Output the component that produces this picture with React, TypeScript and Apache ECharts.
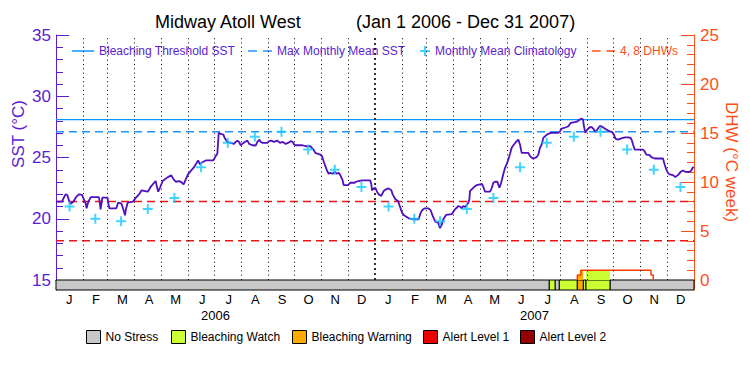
import React, { useEffect, useRef } from "react";
import * as echarts from "echarts";

const FONT = "Liberation Sans";
const PURPLE = "#5a1ed2";
const LINE_PURPLE = "#5010c0";
const ORANGE = "#ff4f19";
const BLUE = "#0a96ff";
const BLUE_DASH = "#1e96ff";
const RED = "#f01414";
const CYAN = "#14c8ff";

const monthLetters = ["J", "F", "M", "A", "M", "J", "J", "A", "S", "O", "N", "D"];
const monthLengths = [31, 28, 31, 30, 31, 30, 31, 31, 30, 31, 30, 31];
const yearLabels = ["2006", "2007"];

// days since 2006-01-01
const sstDays = [
  0, 3, 7, 8, 11, 13, 15, 17, 20, 23, 26, 30, 31, 34, 35, 37, 40, 49, 50, 51, 53, 59, 59.5, 61, 69, 71, 75, 77, 79, 80,
  82, 88, 92, 95, 98, 102, 105, 109, 114, 115, 117, 119, 122, 128, 132, 134, 137, 141, 144, 146, 148.5, 151, 154, 158,
  161, 162.5, 165, 166.3, 168.6, 171.3, 180, 182.7, 184.6, 186.2, 188.5, 191.5, 193, 196, 200, 203.7, 205.6, 207.5,
  209.4, 211.3, 213.2, 216, 219, 221, 224.7, 228.5, 230.4, 232.7, 234.2, 236.5, 241.8, 243.8, 246.4, 249.5, 253.3,
  256.3, 259.4, 262.8, 265.5, 268.5, 270.8, 272.4, 274.3, 281.9, 285.7, 291, 293.5, 295, 296.7, 299.8, 302.4, 304.3,
  306.2, 308.2, 310.1, 312, 313.9, 316.5, 318.8, 321.5, 323.4, 325.3, 328, 329.1, 334.1, 336.8, 341.7, 343.2, 346.3,
  350.1, 359.6, 360.8, 361.5, 363.5, 365.4, 367.3, 369.2, 372.2, 374.9, 377.6, 380.6, 383.7, 385.2, 388.3, 391.3, 394,
  395.9, 397.8, 403.5, 408.1, 415, 416.9, 418.8, 421.8, 426.4, 428.7, 431, 434, 437.1, 439.4, 441.3, 443.2, 446.3,
  452.7, 456.6, 460.4, 463, 464.2, 466.1, 468, 469.9, 471.8, 473, 473.7, 475.6, 478.3, 481.4, 485.2, 487.1, 489,
  490.9, 496.6, 498.5, 500.4, 502.3, 505, 507.3, 508.8, 510.3, 511.9, 513.8, 515.7, 517.6, 519.5, 521.4, 523.3,
  526.4, 529, 530.9, 532.8, 534.7, 540.5, 542.4, 545.4, 548.1, 550, 551.9, 553.8, 555.7, 557.6, 560.7, 563.4, 566,
  574.8, 576.7, 578.6, 583.6, 586.2, 588.9, 595.3, 599.1, 601.8, 603, 604.1, 605.6, 607.9, 610.6, 613.3, 615.5, 617.1,
  619.4, 622, 623.9, 627, 629.7, 633.5, 636.1, 638.4, 640, 643, 646.1, 648.7, 651.4, 654.5, 657.5, 659, 660.2, 662.1,
  671.6, 673.5, 675.4, 679.2, 681.1, 685, 694.5, 696.4, 698.3, 700.2, 702.1, 706, 708.6, 711.7, 714.7, 717.4, 720.1,
  725, 726.9, 728.8, 730,
];
const sstValues = [
  21.4, 21.4, 21.4, 21.59, 21.99, 21.94, 21.45, 21.23, 21.4, 21.77, 21.99, 21.94, 21.72, 21.23, 20.85, 21.4, 21.77,
  21.77, 21.4, 20.77, 21.72, 21.72, 21.4, 20.85, 20.85, 21.31, 21.23, 20.77, 20.28, 20.77, 21.31, 21.4, 21.77, 21.99,
  22.32, 22.26, 22.21, 22.67, 23.08, 22.75, 22.21, 22.53, 23.08, 23.4, 23.54, 23.27, 23.02, 23.08, 22.95, 22.8, 23.21,
  23.62, 23.89, 24.21, 24.57, 24.76, 24.43, 24.57, 24.65, 24.76, 24.76, 25.11, 25.3, 27.01, 26.93, 26.87, 26.6, 26.27,
  26.19, 26.11, 26.27, 26.38, 26.27, 26.0, 26.11, 26.27, 26.38, 26.11, 26.0, 25.98, 26.27, 26.46, 26.27, 26.19, 26.19,
  26.33, 26.38, 26.27, 26.38, 26.19, 26.27, 26.11, 26.19, 26.33, 26.27, 26.06, 26.0, 26.0, 25.92, 25.92, 25.73, 25.6,
  25.38, 25.3, 25.24, 25.11, 24.7, 24.29, 23.94, 23.67, 23.75, 23.67, 23.83, 23.67, 23.75, 23.56, 23.13, 22.75, 22.75,
  22.94, 22.94, 23.02, 23.08, 23.13, 23.13, 22.8, 22.32, 22.48, 22.53, 22.21, 21.99, 21.86, 22.26, 22.4, 22.48, 22.32,
  21.99, 21.59, 21.45, 20.91, 20.5, 20.31, 20.04, 19.96, 19.96, 20.42, 20.69, 20.85, 20.85, 20.69, 20.23, 19.77, 19.69,
  19.23, 19.5, 19.96, 20.31, 20.37, 20.77, 21.04, 20.96, 20.85, 21.04, 20.96, 21.12, 21.31, 21.59, 22.26, 22.4, 22.59,
  22.75, 22.8, 22.86, 22.59, 22.21, 22.21, 22.48, 22.94, 23.02, 23.02, 22.53, 22.8, 23.21, 23.67, 24.16, 24.49, 24.84,
  25.3, 25.79, 26.0, 26.27, 26.46, 26.06, 25.38, 25.38, 25.38, 25.11, 24.92, 24.97, 25.03, 25.24, 25.79, 26.06, 26.6,
  26.81, 26.93, 27.01, 27.01, 27.14, 27.36, 27.47, 27.55, 27.82, 27.9, 28.09, 28.17, 28.11, 27.55, 27.01, 27.28, 27.47,
  27.47, 27.28, 27.09, 27.28, 27.55, 27.55, 27.41, 27.28, 27.14, 27.09, 26.87, 26.54, 26.46, 26.54, 26.6, 26.65, 26.65,
  26.6, 26.38, 26.06, 25.65, 25.65, 25.51, 25.24, 25.19, 25.03, 24.92, 24.92, 24.43, 24.02, 23.75, 23.62, 23.56, 23.4,
  23.56, 23.83, 23.94, 23.83, 23.83, 23.94, 24.21, 24.16,
];

const climatology = [21.0, 20.0, 19.8, 20.8, 21.7, 24.2, 26.2, 26.7, 27.1, 25.65, 24.0, 22.6];
const bleachingThreshold = 28.1;
const maxMonthlyMean = 27.1;
const dhwLevels = [4, 8];

// Degree heating weeks (step line)
const dhwDays = [596.5, 596.5, 600.5, 680.8, 683.4];
const dhwValues = [0, 0.5, 1.0, 0.5, 0];
const dhwWarnDays = [596.5, 600.5, 603.3];
const dhwWarnValues = [0.5, 1.0, 1.0];
const dhwWatchDays = [606.4, 633.9];
const dhwWatchValues = [1.0, 1.0];

// Stress bar segments
const stressStart = [0, 564.4, 571, 575.9, 596.5, 603.3, 606.4, 633.9];
const stressEnd = [564.4, 571, 575.9, 596.5, 603.3, 606.4, 633.9, 730];
const stressLevel = [0, 1, 0, 1, 2, 1, 1, 0];
const stressNames = ["No Stress", "Bleaching Watch", "Bleaching Warning", "Alert Level 1", "Alert Level 2"];
const stressColors = ["#c8c8c8", "#ccff33", "#ffaa00", "#ee0000", "#960000"];
const stressLegendLeft = [86, 171, 292, 423, 520];

const PLUS = "path://M4,0h2v10h-2z M0,4h10v2h-10z";
const LINE_ICON = "path://M0,0h22v2h-22z";
const DASH_ICON = "path://M0,0h9v2h-9z M15,0h9v2h-9z";

export default function App() {
  const ref = useRef<HTMLDivElement>(null);

  useEffect(() => {
    if (!ref.current) return;
    const chart = echarts.init(ref.current, undefined, { renderer: "svg" });

    const allLengths = [...monthLengths, ...monthLengths];
    const monthStarts: number[] = [0];
    allLengths.forEach((l) => monthStarts.push(monthStarts[monthStarts.length - 1] + l));
    const totalDays = monthStarts[24];

    const climData = allLengths.map((l, i) => [monthStarts[i] + l / 2, climatology[i % 12]]);

    const gridLines = monthStarts.slice(1, 24).map((d) => ({
      xAxis: d,
      lineStyle: d === 365 ? { type: [2, 3], width: 1.6, color: "#000" } : { type: [1, 3.3], width: 1, color: "#000" },
    }));

    const stressSeries = stressNames.map((name, k) => ({
      type: "custom",
      name,
      xAxisIndex: 1,
      yAxisIndex: 2,
      itemStyle: { color: stressColors[k] },
      data: stressStart.map((s, i) => [s, stressEnd[i], stressLevel[i]]).filter((r) => r[2] === k),
      encode: { x: [0, 1] },
      renderItem: (params: any, api: any) => {
        const a = api.coord([api.value(0), 1]);
        const b = api.coord([api.value(1), 0]);
        return {
          type: "rect",
          shape: { x: a[0], y: a[1], width: b[0] - a[0], height: b[1] - a[1] },
          style: { fill: stressColors[k], stroke: "#000", lineWidth: 1 },
        };
      },
      z: 2,
    }));

    const topLegend = (name: string, left: number, icon: string, w: number, h: number, color: string, textColor: string) => ({
      data: [{ name, icon, itemStyle: { color, borderWidth: 0 } }],
      left,
      top: 45,
      padding: 0,
      itemWidth: w,
      itemHeight: h,
      symbolKeepAspect: false,
      selectedMode: false,
      textStyle: { color: textColor, fontSize: 12, fontFamily: FONT },
    });

    const option: any = {
      animation: false,
      backgroundColor: "#fff",
      textStyle: { fontFamily: FONT },
      title: [
        {
          text: "Midway Atoll West",
          left: 155,
          top: 13,
          padding: 0,
          textStyle: { fontSize: 18, fontWeight: "normal", color: "#000", fontFamily: FONT },
        },
        {
          text: "(Jan 1 2006 - Dec 31 2007)",
          left: 356,
          top: 13,
          padding: 0,
          textStyle: { fontSize: 18, fontWeight: "normal", color: "#000", fontFamily: FONT },
        },
      ],
      grid: [
        { left: 56, right: 56, top: 35, height: 245, outerBoundsMode: "none" },
        { left: 56, right: 56, top: 280, height: 10, outerBoundsMode: "none" },
      ],
      xAxis: [
        {
          type: "value",
          gridIndex: 0,
          min: 0,
          max: totalDays,
          position: "top",
          axisLine: { show: true, lineStyle: { color: "#000", width: 1 } },
          axisTick: { show: false },
          axisLabel: { show: false },
          splitLine: { show: false },
        },
        {
          type: "value",
          gridIndex: 1,
          min: 0,
          max: totalDays,
          position: "top",
          show: false,
        },
        {
          type: "category",
          gridIndex: 1,
          position: "bottom",
          data: [...monthLetters, ...monthLetters],
          boundaryGap: true,
          axisLine: { show: false },
          axisTick: { show: false },
          axisLabel: { interval: 0, fontSize: 13, color: "#000", margin: 3, fontFamily: FONT },
        },
        {
          type: "category",
          gridIndex: 1,
          position: "bottom",
          offset: 16,
          data: yearLabels,
          boundaryGap: true,
          axisLine: { show: false },
          axisTick: { show: false },
          axisLabel: { interval: 0, fontSize: 13, color: "#000", margin: 3, fontFamily: FONT },
        },
      ],
      yAxis: [
        {
          type: "value",
          gridIndex: 0,
          position: "left",
          min: 15,
          max: 35,
          interval: 5,
          axisLine: { show: true, lineStyle: { color: PURPLE, width: 1 } },
          axisTick: { show: true, inside: true, length: 13, lineStyle: { color: PURPLE } },
          minorTick: { show: true, splitNumber: 5, length: 7, lineStyle: { color: PURPLE } },
          axisLabel: { color: PURPLE, fontSize: 17, margin: 5, fontFamily: FONT },
          splitLine: { show: false },
        },
        {
          type: "value",
          gridIndex: 0,
          position: "right",
          min: 0,
          max: 25,
          interval: 5,
          axisLine: { show: true, lineStyle: { color: ORANGE, width: 1 } },
          axisTick: { show: true, inside: true, length: 13, lineStyle: { color: ORANGE } },
          minorTick: { show: true, splitNumber: 5, length: 7, lineStyle: { color: ORANGE } },
          axisLabel: { color: ORANGE, fontSize: 17, margin: 6, fontFamily: FONT },
          splitLine: { show: false },
        },
        {
          type: "value",
          gridIndex: 1,
          position: "left",
          min: 0,
          max: 1,
          axisLine: { show: true, lineStyle: { color: PURPLE } },
          axisTick: { show: false },
          axisLabel: { show: false },
          splitLine: { show: false },
        },
        {
          type: "value",
          gridIndex: 1,
          position: "right",
          min: 0,
          max: 1,
          axisLine: { show: true, lineStyle: { color: ORANGE } },
          axisTick: { show: false },
          axisLabel: { show: false },
          splitLine: { show: false },
        },
      ],
      legend: [
        topLegend("Bleaching Threshold SST", 72, LINE_ICON, 22, 1.5, BLUE, PURPLE),
        topLegend("Max Monthly Mean SST", 248, DASH_ICON, 24, 1.5, BLUE_DASH, PURPLE),
        topLegend("Monthly Mean Climatology", 420, PLUS, 10, 10, CYAN, PURPLE),
        topLegend("4, 8 DHWs", 592, DASH_ICON, 23, 1.5, ORANGE, ORANGE),
        ...stressNames.map((name, k) => ({
          data: [{ name, icon: "rect" }],
          left: stressLegendLeft[k],
          top: 330,
          padding: 0,
          itemWidth: 14,
          itemHeight: 13,
          selectedMode: false,
          itemStyle: { borderColor: "#000", borderWidth: 1 },
          textStyle: { color: "#000", fontSize: 12, fontFamily: FONT },
        })),
      ],
      graphic: [
        {
          type: "text",
          x: 18,
          y: 134,
          rotation: Math.PI / 2,
          style: {
            text: "SST (°C)",
            fill: PURPLE,
            font: `17px "${FONT}"`,
            align: "center",
            verticalAlign: "middle",
          },
        },
        {
          type: "text",
          x: 731,
          y: 162,
          rotation: -Math.PI / 2,
          style: {
            text: "DHW (°C week)",
            fill: ORANGE,
            font: `17px "${FONT}"`,
            align: "center",
            verticalAlign: "middle",
          },
        },
      ],
      series: [
        {
          type: "line",
          name: "Bleaching Threshold SST",
          xAxisIndex: 0,
          yAxisIndex: 0,
          data: [
            [0, bleachingThreshold],
            [totalDays, bleachingThreshold],
          ],
          symbol: "none",
          itemStyle: { color: BLUE },
          lineStyle: { color: BLUE, width: 1.3 },
          z: 2,
          markLine: {
            symbol: ["none", "none"],
            silent: true,
            label: { show: false },
            data: gridLines,
          },
        },
        {
          type: "line",
          name: "Max Monthly Mean SST",
          xAxisIndex: 0,
          yAxisIndex: 0,
          data: [
            [0, maxMonthlyMean],
            [totalDays, maxMonthlyMean],
          ],
          symbol: "none",
          itemStyle: { color: BLUE_DASH },
          lineStyle: { color: BLUE_DASH, width: 1.5, type: [8, 5] },
          z: 2,
        },
        ...dhwLevels.map((lv) => ({
          type: "line",
          name: "4, 8 DHWs",
          xAxisIndex: 0,
          yAxisIndex: 1,
          data: [
            [0, lv],
            [totalDays, lv],
          ],
          symbol: "none",
          itemStyle: { color: RED },
          lineStyle: { color: RED, width: 1.5, type: [8, 5] },
          z: 2,
        })),
        {
          type: "line",
          name: "dhwWarnFill",
          xAxisIndex: 0,
          yAxisIndex: 1,
          step: "end",
          data: dhwWarnDays.map((d, i) => [d, dhwWarnValues[i]]),
          symbol: "none",
          lineStyle: { width: 0, color: stressColors[2] },
          areaStyle: { color: stressColors[2], opacity: 1 },
          z: 3,
        },
        {
          type: "line",
          name: "dhwWatchFill",
          xAxisIndex: 0,
          yAxisIndex: 1,
          step: "end",
          data: dhwWatchDays.map((d, i) => [d, dhwWatchValues[i]]),
          symbol: "none",
          lineStyle: { width: 0, color: stressColors[1] },
          areaStyle: { color: stressColors[1], opacity: 1 },
          z: 3,
        },
        {
          type: "line",
          name: "DHW",
          xAxisIndex: 0,
          yAxisIndex: 1,
          step: "end",
          data: dhwDays.map((d, i) => [d, dhwValues[i]]),
          symbol: "none",
          lineStyle: { color: "#ff3c00", width: 1.5 },
          z: 4,
        },
        {
          type: "line",
          name: "SST",
          xAxisIndex: 0,
          yAxisIndex: 0,
          data: sstDays.map((d, i) => [d, sstValues[i]]),
          symbol: "none",
          itemStyle: { color: LINE_PURPLE },
          lineStyle: { color: LINE_PURPLE, width: 1.8 },
          z: 5,
        },
        {
          type: "scatter",
          name: "Monthly Mean Climatology",
          xAxisIndex: 0,
          yAxisIndex: 0,
          data: climData,
          symbol: PLUS,
          symbolSize: 10,
          itemStyle: { color: CYAN },
          z: 6,
        },
        ...stressSeries,
      ],
    };

    chart.setOption(option);
    return () => chart.dispose();
  }, []);

  return (
    <div
      ref={ref}
      style={{ position: "fixed", left: 0, top: 0, width: 750, height: 375, background: "#fff" }}
    />
  );
}
